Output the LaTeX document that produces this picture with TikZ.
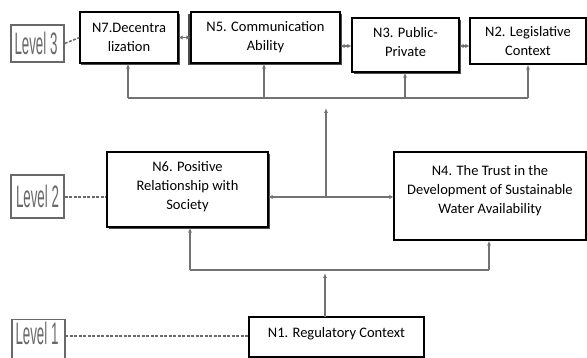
\documentclass[tikz,border=0pt]{standalone}
\usepackage{fontspec}
\setmainfont{Carlito}
\newfontfamily\lvlfont{Liberation Sans}
\usetikzlibrary{arrows.meta}
\definecolor{lvlgray}{RGB}{105,105,105}
\definecolor{arrgray}{RGB}{115,115,115}
\newcommand{\lvl}[1]{\scalebox{0.43}[1]{#1}}
\tikzset{
  box/.style={draw=black, line width=1.2pt, fill=white, inner sep=0pt, align=center,
    font=\fontsize{14.5}{19}\selectfont},
  txt/.style={align=center, inner sep=0pt, font=\fontsize{14.5}{19}\selectfont},
  lvlbox/.style={draw=lvlgray, line width=1.5pt, fill=white, inner sep=0pt},
  lvltxt/.style={inner sep=0pt, text=lvlgray, font=\lvlfont\fontsize{31}{31}\selectfont},
  dashln/.style={draw=lvlgray, line width=1.5pt, dash pattern=on 3pt off 1.5pt},
  arr/.style={draw=arrgray, line width=1.8pt, -{Latex[length=5pt,width=4pt]}},
  dblarr/.style={draw=arrgray, line width=1.8pt, {Latex[length=4pt,width=4.5pt]}-{Latex[length=4pt,width=4.5pt]}},
  bus/.style={draw=arrgray, line width=1.8pt}
}
\begin{document}
\begin{tikzpicture}[x=1pt,y=-1pt]
\clip (0,0) rectangle (587,358);
\fill[white] (0,0) rectangle (587,358);
% shadows
\fill[black!70] (81,14) rectangle (180,65);
\fill[black!70] (188,14) rectangle (342,65);
\fill[black!70] (354,20) rectangle (461,74);
\fill[black!70] (109,154) rectangle (270,229);
% Level 3
\node[lvlbox, minimum width=53pt, minimum height=37pt] (l3) at (37.5,43.5) {};
\node[lvltxt] (l3t) at (36,43.5) {\lvl{Level 3}};
\node[box, minimum width=98pt, minimum height=51pt] (n7) at (129,37.5) {N7.Decentra\\lization};
\node[box, minimum width=149pt, minimum height=51pt] (n5) at (265.5,37.5) {N5. Communication\\Ability};
\node[box, minimum width=107pt, minimum height=54pt] (n3) at (405.5,45) {};
\node[txt] (n3t) at (405.5,42) {N3. Public-\\Private};
\node[box, minimum width=116pt, minimum height=46pt] (n2) at (528,41) {N2. Legislative\\Context};
\draw[dashln] (l3.east) -- (n7.west);
\draw[dblarr] (n7.east) -- (n5.west);
\draw[dblarr] (n5.east |- 0,46) -- (n3.west |- 0,46);
\draw[dblarr] (n3.east |- 0,46) -- (n2.west |- 0,46);
% upper bus
\coordinate (b7) at (128,98);
\coordinate (b2) at (528,98);
\draw[bus] (b7) -- (b2);
\draw[arr] (b7) -- (n7.south -| b7);
\draw[arr] (264,98) -- (n5.south -| 264,0);
\draw[arr] (405,98) -- (n3.south -| 405,0);
\draw[arr] (b2) -- (n2.south -| b2);
% Level 2
\node[lvlbox, minimum width=53pt, minimum height=43pt] (l2) at (37.5,196.5) {};
\node[lvltxt] (l2t) at (37.5,196.5) {\lvl{Level 2}};
\node[box, minimum width=161pt, minimum height=75pt] (n6) at (187.5,189.5) {};
\node[txt] (n6t) at (187.5,187) {N6. Positive\\Relationship with\\Society};
\node[box, minimum width=192pt, minimum height=88pt] (n4) at (490,196) {};
\node[txt] (n4t) at (490,191) {N4. The Trust in the\\Development of Sustainable\\Water Availability};
\draw[dashln] (l2.east |- 0,197) -- (n6.west |- 0,197);
\draw[dblarr] (n6.east |- 0,197) -- (n4.west |- 0,197);
\coordinate (mid) at (326,197);
\coordinate (midtop) at (326,108);
\draw[arr] (mid) -- (midtop);
% lower bus
\coordinate (c6) at (190,270);
\coordinate (c4) at (489,270);
\draw[bus] (c6) -- (c4);
\draw[arr] (c6) -- (n6.south -| c6);
\draw[arr] (c4) -- (n4.south -| c4);
% Level 1
\node[lvlbox, minimum width=53pt, minimum height=45pt, anchor=north] (l1) at (38.5,319) {};
\node[lvltxt] (l1t) at (37,333) {\lvl{Level 1}};
\node[box, minimum width=175pt, minimum height=40pt] (n1) at (336.5,337) {};
\node[txt] (n1t) at (336.5,334) {N1. Regulatory Context};
\draw[dashln] (65,336) -- (n1.west |- 0,336);
\coordinate (n1top) at (325,317);
\draw[arr] (n1top) -- (325,273);
\end{tikzpicture}
\end{document}
